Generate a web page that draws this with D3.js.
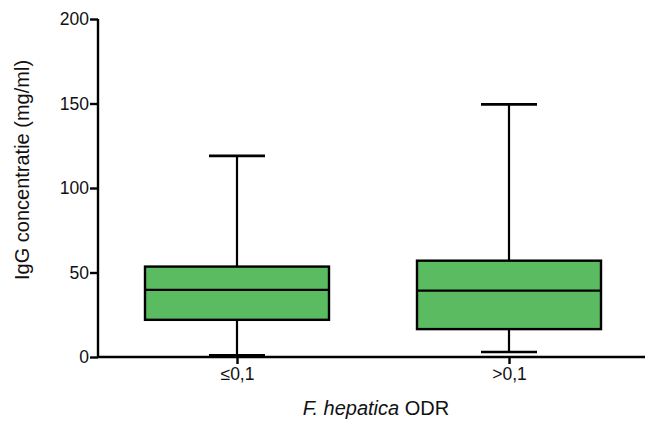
<!DOCTYPE html>
<html><head><meta charset="utf-8">
<script src="https://cdn.jsdelivr.net/npm/d3@7/dist/d3.min.js"></script>
<style>body{margin:0;background:#fff}text{font-family:"Liberation Sans",Arial,sans-serif}</style>
</head><body><svg id="c" width="649" height="423"></svg>
<script>
const categories = ["≤0,1", ">0,1"];
const whiskerLow = [1, 3];
const q1 = [22, 16.5];
const median = [39.7, 39.3];
const q3 = [53.5, 57];
const whiskerHigh = [119, 149.5];
const yTicks = [0, 50, 100, 150, 200];

const svg = d3.select("#c");
const y = d3.scaleLinear().domain([0, 200]).range([357, 19]);
const x = d3.scalePoint().domain(categories).range([101, 645]).padding(0.5);
const boxW = 184, capW = 56;

const data = categories.map((c, i) => ({c, lo: whiskerLow[i], q1: q1[i], med: median[i], q3: q3[i], hi: whiskerHigh[i]}));

const g = svg.append("g");
data.forEach(d => {
  const cx = x(d.c);
  g.append("line").attr("x1", cx).attr("x2", cx).attr("y1", y(d.hi)).attr("y2", y(d.lo)).attr("stroke", "#000").attr("stroke-width", 2.2);
  g.append("line").attr("x1", cx - capW/2).attr("x2", cx + capW/2).attr("y1", y(d.hi)).attr("y2", y(d.hi)).attr("stroke", "#000").attr("stroke-width", 2.6);
  g.append("line").attr("x1", cx - capW/2).attr("x2", cx + capW/2).attr("y1", y(d.lo)).attr("y2", y(d.lo)).attr("stroke", "#000").attr("stroke-width", 2.6);
  g.append("rect").attr("x", cx - boxW/2).attr("width", boxW).attr("y", y(d.q3)).attr("height", y(d.q1) - y(d.q3)).attr("fill", "#5bbb61").attr("stroke", "#000").attr("stroke-width", 2.4);
  g.append("line").attr("x1", cx - boxW/2).attr("x2", cx + boxW/2).attr("y1", y(d.med)).attr("y2", y(d.med)).attr("stroke", "#000").attr("stroke-width", 2.4);
});

const yAxis = svg.append("g").attr("transform", "translate(98,0)")
  .call(d3.axisLeft(y).tickValues(yTicks).tickSize(8).tickPadding(1));
const xAxis = svg.append("g").attr("transform", "translate(0,357)")
  .call(d3.axisBottom(x).tickSize(7).tickPadding(4));
[yAxis, xAxis].forEach(a => {
  a.select(".domain").attr("stroke-width", 2.4).attr("stroke", "#000");
  a.selectAll(".tick line").attr("stroke-width", 2.4).attr("stroke", "#000");
  a.selectAll(".tick text").attr("font-size", 17.5).attr("fill", "#111").attr("font-family", "'Liberation Sans',Arial,sans-serif");
});
xAxis.select(".domain").attr("d", "M98,0H645");
yAxis.select(".domain").attr("d", `M0,${y(0)+1}V${y(200)}`);

svg.append("text").attr("transform", "translate(29,170) rotate(-90)").attr("text-anchor", "middle")
  .attr("font-size", 20).attr("fill", "#111").text("IgG concentratie (mg/ml)");
const t = svg.append("text").attr("x", 376).attr("y", 415).attr("text-anchor", "middle").attr("font-size", 20).attr("fill", "#111");
t.append("tspan").attr("font-style", "italic").text("F. hepatica");
t.append("tspan").text(" ODR");
</script></body></html>
